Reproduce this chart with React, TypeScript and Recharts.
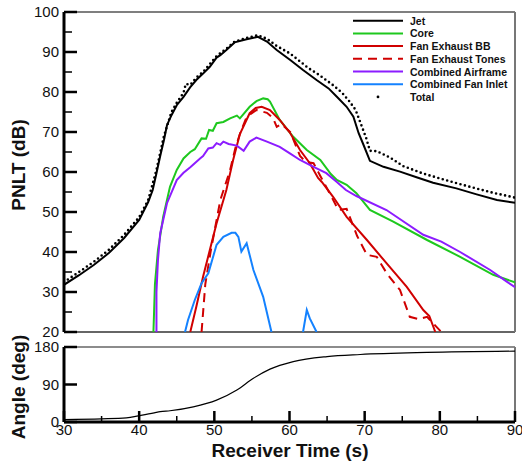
import { LineChart, Line, XAxis, YAxis, ReferenceLine } from "recharts";

const FONT = '"Liberation Sans", Arial, Helvetica, sans-serif';

// PNLT vs receiver time
const jetTime = [30, 32, 34, 36, 38, 40, 41.2, 41.8, 42.3, 42.8, 43.3, 43.7, 44.3, 45.0, 45.9, 46.8, 47.6, 48.5, 49.4, 50.3, 50.8, 51.6, 52.7, 54.3, 55.8, 57.0, 58.3, 60.1, 61.8, 63.6, 65.2, 66.3, 67.6, 68.5, 69.2, 69.8, 70.7, 72.5, 74.7, 76.9, 79.1, 82.2, 84.9, 87.6, 90];
const jetDb = [31.8, 34.2, 36.8, 39.8, 43.5, 48, 52.5, 55.5, 59.7, 64, 68, 71.7, 74.2, 76.7, 78.8, 81.2, 83, 84.6, 86.3, 88.6, 89.2, 90.5, 92.4, 93.2, 93.8, 92.6, 90.5, 88, 85.5, 83, 80.9, 78.8, 76.3, 73.8, 69.7, 67, 62.8, 61.3, 60.1, 58.7, 57.3, 55.9, 54.4, 53, 52.3];

const totalTime = [30, 32, 34, 36, 38, 40, 41.2, 42.3, 43.3, 44.3, 45.0, 45.9, 46.2, 46.8, 47.6, 48.5, 49.4, 50.3, 51.6, 52.7, 54.3, 55.8, 57.0, 58.3, 60.1, 62.5, 64, 65.8, 67, 68, 68.8, 69.5, 70.2, 70.7, 71.6, 73.4, 75.1, 77.8, 81.3, 84, 87.1, 90];
const totalDb = [32.5, 35, 37.6, 40.6, 44.3, 48.7, 53, 60.5, 69, 75, 77.3, 79.8, 82, 81.8, 83.6, 85, 87, 89, 90.8, 92.6, 93.5, 94.2, 93.3, 91.5, 89.6, 86, 84.2, 81.7, 79.8, 77.6, 75.5, 72, 68.5, 65.3, 65.2, 63.6, 61.5, 59.6, 57.7, 56.3, 54.8, 53.6];

const coreTime = [41.9, 42.0, 42.1, 42.5, 43.2, 44.1, 45.0, 45.9, 46.8, 47.4, 48.3, 48.9, 49.3, 49.8, 50.3, 51.2, 52.1, 53.0, 53.4, 54.7, 55.6, 56.5, 57.1, 57.4, 58.7, 60.5, 62.3, 64.1, 65.5, 66.3, 67.6, 68.9, 70.7, 73.8, 78.3, 82.7, 87.1, 90];
const coreDb = [20, 26, 32, 40.5, 48.8, 56.3, 60.5, 63.4, 65, 65.7, 68.4, 68.3, 70.5, 70.3, 72.2, 72.5, 73.4, 74.1, 73.4, 76.3, 77.7, 78.4, 78.2, 77.6, 73, 68.8, 65.5, 63, 59.5, 58, 56.8, 54.7, 50.5, 47.6, 43, 38.8, 34.3, 32.4];

const fanBbTime = [46.8, 47.6, 48.5, 49.4, 50.3, 51.6, 52.5, 53.4, 54.7, 55.5, 56.3, 57.4, 58.7, 60.1, 61.4, 62.7, 63.8, 64.3, 65.8, 67.6, 70.3, 72.9, 75.6, 77.8, 78.6, 79.4];
const fanBbDb = [20, 26.3, 33.8, 40.5, 47.2, 55.5, 63, 69.5, 74.7, 76, 76.3, 75.5, 73, 69.7, 65.5, 62.2, 58.5, 57.5, 53.8, 48.8, 43, 37.2, 31.3, 25.5, 24, 20];

const fanToneTime = [48.3, 48.8, 49.5, 50.8, 52.1, 52.8, 53.4, 54.3, 55.6, 57.0, 57.8, 58.3, 58.9, 60.1, 61.4, 62.2, 63.2, 64.1, 65.6, 66.5, 67.6, 69, 70.3, 71.6, 73, 74.7, 76, 77.2, 78.3, 80.2];
const fanToneDb = [20, 32, 40, 53, 60.5, 66, 69.5, 73.8, 75.5, 74.8, 73.5, 71.3, 72, 70, 64, 62.5, 62.2, 59, 53.8, 50.5, 50.8, 44, 39.3, 38.8, 34.5, 30.5, 23.8, 23.2, 23.8, 20];

const airframeTime = [42.3, 42.3, 42.5, 42.8, 43.7, 45, 45.9, 46.8, 48.1, 48.5, 49.2, 49.8, 50.3, 50.8, 51.2, 51.9, 53.0, 53.9, 54.7, 55.6, 57, 58.7, 60.1, 61.4, 63.2, 64.9, 66.3, 67.5, 68.9, 72.9, 77.8, 80.2, 82.7, 86.7, 88.9, 90];
const airframeDb = [20, 30, 38, 44.7, 52.2, 58, 59.8, 61.2, 63.4, 64, 65.9, 66.1, 67.2, 66.8, 67.6, 67, 66.6, 65.3, 67.6, 68.6, 67.6, 66.3, 64.6, 63, 61.3, 59.7, 57.5, 55.5, 54, 50.5, 44.3, 42.6, 40, 35.5, 32.6, 31.2];

const inletTime = [46.1, 46.5, 47.4, 48.3, 49.2, 50.3, 51.2, 52.3, 52.8, 53.2, 53.6, 54.3, 55.2, 56.5, 57.6, 60, 61.8, 62.3, 62.7, 63.6];
const inletDb = [20, 23, 28, 32.2, 34.7, 41.8, 43.8, 44.8, 44.8, 43.8, 40.1, 42.2, 35.5, 28.8, 20, null, 20, 25.5, 23.4, 20];

// observer angle vs receiver time
const angleTime = [30, 35, 38.3, 40.1, 42, 42.8, 44.1, 47.2, 50.3, 53, 55.2, 57.4, 60.5, 65, 69.4, 78.3, 90];
const angleDeg = [5.8, 7.5, 9.7, 15.5, 22, 25, 27, 36.3, 52.5, 76.8, 105, 127, 145, 157, 162, 167, 170];

const dbTicks = [20, 25, 30, 35, 40, 45, 50, 55, 60, 65, 70, 75, 80, 85, 90, 95, 100];
const angleTicks = [0, 90, 180];
const timeTicks = [30, 35, 40, 45, 50, 55, 60, 65, 70, 75, 80, 85, 90];

const zip = (ts: number[], vs: (number | null)[]) => ts.map((t, i) => ({ t, v: vs[i] }));

const series = [
  { name: "Jet", data: zip(jetTime, jetDb), color: "#000000", dash: undefined },
  { name: "Core", data: zip(coreTime, coreDb), color: "#1ec81e", dash: undefined },
  { name: "Fan Exhaust BB", data: zip(fanBbTime, fanBbDb), color: "#d00000", dash: undefined },
  { name: "Fan Exhaust Tones", data: zip(fanToneTime, fanToneDb), color: "#d00000", dash: "9 6" },
  { name: "Combined Airframe", data: zip(airframeTime, airframeDb), color: "#8c1cff", dash: undefined },
  { name: "Combined Fan Inlet", data: zip(inletTime, inletDb), color: "#1482ff", dash: undefined },
];
const totalData = zip(totalTime, totalDb);
const angleData = zip(angleTime, angleDeg);

const leftTick = (step: number) => (props: any) => {
  const { x, y, payload } = props;
  const v = payload.value;
  const major = v % step === 0;
  return (
    <g>
      <line x1={x} x2={x + (major ? 13 : 8)} y1={y} y2={y} stroke="#000" strokeWidth={major ? 2.5 : 1.5} />
      {major && (
        <text x={x - 5} y={y} dy="0.36em" textAnchor="end" fontSize={15} fontFamily={FONT} fill="#111">
          {v}
        </text>
      )}
    </g>
  );
};

const bottomTick = (props: any) => {
  const { x, y, payload } = props;
  const v = payload.value;
  const major = v % 10 === 0;
  return (
    <g>
      <line x1={x} x2={x} y1={y} y2={y - (major ? 11 : 6)} stroke="#000" strokeWidth={major ? 2.5 : 1.5} />
      {major && (
        <text x={x} y={y + 13} textAnchor="middle" fontSize={15} fontFamily={FONT} fill="#111">
          {v}
        </text>
      )}
    </g>
  );
};

const legendTop = 20.7;
const legendStep = 12.7;

export default function App() {
  return (
    <div style={{ position: "fixed", left: 0, top: 0, width: 522, height: 463, background: "#fff", overflow: "hidden" }}>
      <div style={{ position: "absolute", left: 0, top: 330 }}>
        <LineChart width={522} height={133} margin={{ top: 17, right: 7, left: 8, bottom: 0 }}>
          <XAxis
            dataKey="t"
            type="number"
            domain={[30, 90]}
            allowDataOverflow
            ticks={timeTicks}
            interval={0}
            height={41}
            tickSize={0}
            tickMargin={0}
            tickLine={false}
            tick={bottomTick}
            axisLine={{ stroke: "#000", strokeWidth: 3 }}
          />
          <YAxis
            type="number"
            domain={[0, 180]}
            allowDataOverflow
            ticks={angleTicks}
            interval={0}
            width={56}
            tickSize={0}
            tickMargin={0}
            tickLine={false}
            tick={leftTick(90)}
            axisLine={{ stroke: "#000", strokeWidth: 3 }}
          />
          <ReferenceLine y={180} stroke="#666" strokeWidth={1.5} />
          <ReferenceLine x={90} stroke="#777" strokeWidth={2} />
          <Line
            data={angleData}
            dataKey="v"
            type="monotone"
            stroke="#000"
            strokeWidth={1.2}
            dot={false}
            activeDot={false}
            isAnimationActive={false}
          />
        </LineChart>
      </div>
      <div style={{ position: "absolute", left: 0, top: 0 }}>
        <LineChart width={522} height={340} margin={{ top: 12, right: 7, left: 8, bottom: 8 }}>
          <XAxis dataKey="t" type="number" domain={[30, 90]} allowDataOverflow hide />
          <YAxis
            type="number"
            domain={[20, 100]}
            allowDataOverflow
            ticks={dbTicks}
            interval={0}
            width={56}
            tickSize={0}
            tickMargin={0}
            tickLine={false}
            tick={leftTick(10)}
            axisLine={{ stroke: "#000", strokeWidth: 3 }}
          />
          <ReferenceLine y={100} stroke="#555" strokeWidth={1.5} />
          <ReferenceLine y={20} stroke="#666" strokeWidth={2} />
          <ReferenceLine x={90} stroke="#777" strokeWidth={2} />
          {series.map((s) => (
            <Line
              key={s.name}
              data={s.data}
              dataKey="v"
              type="linear"
              stroke={s.color}
              strokeWidth={2}
              strokeDasharray={s.dash}
              dot={false}
              activeDot={false}
              isAnimationActive={false}
            />
          ))}
          <Line
            data={totalData}
            dataKey="v"
            type="linear"
            stroke="#000"
            strokeWidth={2.6}
            strokeLinecap="round"
            strokeDasharray="0 4.6"
            dot={false}
            activeDot={false}
            isAnimationActive={false}
          />
        </LineChart>
      </div>
      <svg width={522} height={463} style={{ position: "absolute", left: 0, top: 0, pointerEvents: "none" }}>
        <text x={18} y={165} transform="rotate(-90 18 165)" textAnchor="middle" dominantBaseline="central" fontSize={19} fontWeight="bold" fontFamily={FONT} fill="#111">
          PNLT (dB)
        </text>
        <text x={18} y={387} transform="rotate(-90 18 387)" textAnchor="middle" dominantBaseline="central" fontSize={19} fontWeight="bold" fontFamily={FONT} fill="#111">
          Angle (deg)
        </text>
        <text x={290} y={457} textAnchor="middle" fontSize={19} fontWeight="bold" fontFamily={FONT} fill="#111">
          Receiver Time (s)
        </text>
        {series.map((s, i) => (
          <g key={s.name}>
            <line x1={353} x2={403} y1={legendTop + i * legendStep} y2={legendTop + i * legendStep} stroke={s.color} strokeWidth={2} strokeDasharray={s.dash} />
            <text x={410} y={legendTop + i * legendStep} dominantBaseline="central" fontSize={10.5} fontWeight="bold" fontFamily={FONT} fill="#111">
              {s.name}
            </text>
          </g>
        ))}
        <circle cx={378} cy={legendTop + 6 * legendStep} r={1.4} fill="#000" />
        <text x={410} y={legendTop + 6 * legendStep} dominantBaseline="central" fontSize={10.5} fontWeight="bold" fontFamily={FONT} fill="#111">
          Total
        </text>
      </svg>
    </div>
  );
}
